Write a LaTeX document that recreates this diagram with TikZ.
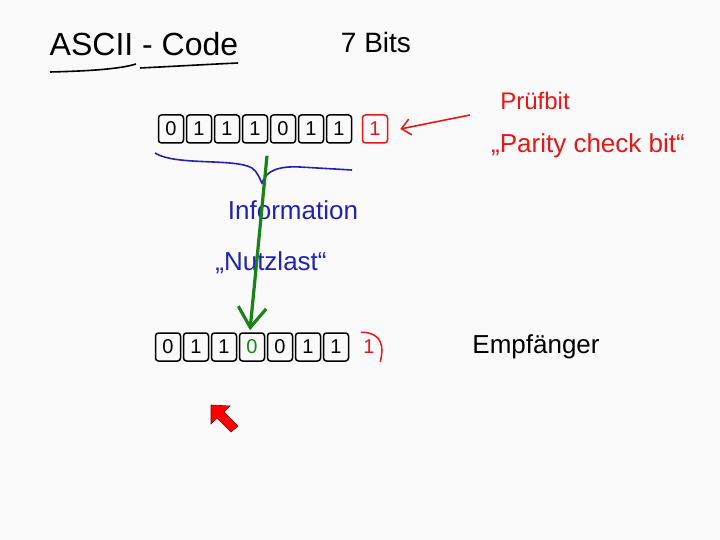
\documentclass[tikz,border=0pt]{standalone}
\usepackage{fontspec}
\usepackage{tikz}
\usetikzlibrary{arrows.meta}
\setmainfont{Liberation Sans}
\definecolor{INKblue}{RGB}{35, 35, 170}
\definecolor{INKred}{RGB}{225, 25, 25}
\definecolor{INKgreen}{RGB}{25, 130, 25}
\definecolor{BOARDwhite}{RGB}{250, 250, 250}
\tikzset{bitbox/.style={draw, line width=1.5pt, rounded corners=3pt, minimum width=25pt, minimum height=28pt, inner sep=0pt, font=\fontsize{20}{20}\selectfont},
         hand/.style={inner sep=0pt, font=\fontsize{#1}{#1}\selectfont}}

\begin{document}
\begin{tikzpicture}[x=1pt,y=-1pt]
                \fill[BOARDwhite] (0,0) rectangle (720,540);
                \useasboundingbox (0,0) rectangle (720,540);
                \node[hand=32] (titel) at (144,44) {ASCII - Code};
                \node[hand=28] (bits) at (376,42) {7 Bits};
                \draw[line width=1.6pt] (50,72) .. controls (90,71) and (120,69) .. (136,64);
                \draw[line width=1.6pt] (140,68) .. controls (180,66) and (215,64) .. (238,63);
                \foreach \d [count=\i] in {0,1,1,1,0,1,1}
                    {\node[bitbox] (t\i) at ({143+28*\i},129) {\d};}
                \node[bitbox,INKred] (tp) at (375,129) {1};
                \foreach \d/\c [count=\i] in {0/black,1/black,1/black,0/INKgreen,0/black,1/black,1/black}
                    {\node[bitbox,text=\c] (b\i) at ({140+28*\i},347) {\d};}
                \node[bitbox,draw=none,text=INKred] (bp) at (369,347) {1};
                \draw[INKred,line width=1.5pt] ([xshift=-8pt]bp.north) .. controls (bp.north east) and ([xshift=2pt]bp.east) .. ([xshift=-2pt]bp.south east);
                \node[hand=24,INKred] (pruef) at (535,101) {Prüfbit};
                \node[hand=26,INKred] (parity) at (588,146) {„Parity check bit“};
                \coordinate (pa) at (470,115);
                \draw[INKred,line width=1.6pt,-{Straight Barb[length=9pt,width=16pt]}] (pa) -- ([xshift=12pt]tp.east);
                \draw[INKblue,line width=1.6pt] (155,153) .. controls (175,166) and (235,158) .. (252,168) .. controls (258,172) and (260,180) .. (262,183) .. controls (266,170) and (280,166) .. (300,167) -- (352,170);
                \node[hand=26,INKblue] (info) at (293,210) {Information};
                \node[hand=26,INKblue] (nutz) at (271,263) {„Nutzlast“};
                \draw[INKgreen,line width=3.2pt,-{Straight Barb[length=20pt,width=28pt]}] ([xshift=12pt,yshift=-12pt]t4.south) -- ([xshift=-2pt,yshift=2pt]b4.north);
                \node[hand=26] (empf) at (536,347) {Empfänger};
                \filldraw[fill=red,draw=red!50!black,line width=0.6pt] (211,405) -- (230,406) -- (224,412) -- (238,426) -- (231,432) -- (217,418) -- (211,424) -- cycle;
            \end{tikzpicture}
\end{document}
